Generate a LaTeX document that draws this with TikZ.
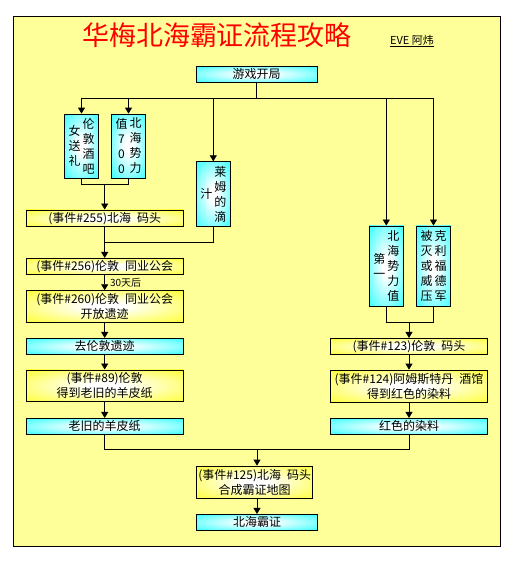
\documentclass[tikz,border=0pt]{standalone}
\usepackage{fontspec}
\setmainfont{Noto Sans CJK SC}
\usepackage{tikz}
\usetikzlibrary{arrows.meta,calc}

\definecolor{paper}{RGB}{255,255,153}
\pgfdeclareradialshading{aquaglow}{\pgfpointorigin}{rgb(0bp)=(1,1,1); rgb(6bp)=(1,1,1); rgb(44bp)=(0,1,1); rgb(50bp)=(0,1,1)}
\pgfdeclareradialshading{lemonglow}{\pgfpointorigin}{rgb(0bp)=(1,1,1); rgb(6bp)=(1,1,1); rgb(44bp)=(1,1,0); rgb(50bp)=(1,1,0)}
% one column of vertical text
\newcommand{\vcol}[1]{\parbox[c]{12pt}{\centering\baselineskip=15pt #1}}

\begin{document}
\begin{tikzpicture}[x=1pt,y=-1pt,
  aquabox/.style={draw, line width=0.8pt, shade, shading=aquaglow, inner sep=0pt, align=center, font=\fontsize{12}{15}\selectfont},
  lemonbox/.style={draw, line width=0.8pt, shade, shading=lemonglow, inner sep=0pt, align=center, font=\fontsize{12}{15}\selectfont},
  colbox/.style={aquabox, minimum width=34.4pt},
  wide/.style={minimum width=157pt},
  flow/.style={line width=0.8pt},
  arr/.style={flow, -{Triangle[width=7pt,length=6pt]}},
  note/.style={inner sep=0pt, font=\fontsize{10}{12}\selectfont}]
  \useasboundingbox (0,0) rectangle (514,563);
  \draw[line width=1pt, fill=paper] (13.3,16) rectangle (500.7,546);

  \node[text=red, font=\fontsize{27}{27}\selectfont] (title) at (217,35) {华梅北海霸证流程攻略};
  \node[font=\fontsize{11}{13}\selectfont] (author) at (412,41) {\underline{EVE 阿炜}};

  \node[aquabox, minimum width=121pt, minimum height=16pt] (start) at (256.5,74) {游戏开局};

  \node[colbox, minimum height=64pt] (bar) at (81.5,146) {\vcol{女\\送\\礼}\hspace{2pt}\vcol{伦\\敦\\酒\\吧}};
  \node[colbox, minimum height=64pt] (power) at (128.5,146) {\vcol{值\\7\\0\\0}\hspace{2pt}\vcol{北\\海\\势\\力}};
  \node[colbox, minimum height=65pt] (lime) at (213.3,194.2) {\vcol{汁}\hspace{2pt}\vcol{莱\\姆\\的\\滴}};
  \node[colbox, minimum height=80.7pt] (first) at (386.3,266.3) {\vcol{第\\一}\hspace{2pt}\vcol{北\\海\\势\\力\\值}};
  \node[colbox, minimum height=80.7pt] (fleet) at (433.5,266.3) {\vcol{被\\灭\\或\\威\\压}\hspace{2pt}\vcol{克\\利\\福\\德\\军}};

  \node[lemonbox, wide, minimum height=16.7pt] (e255) at (104.7,218.3) {(事件\#255)北海\enspace 码头};
  \node[lemonbox, wide, minimum height=15.7pt] (e256) at (104.7,266.2) {(事件\#256)伦敦\enspace 同业公会};
  \node[lemonbox, wide, minimum height=31.3pt] (e260) at (104.7,306.3) {(事件\#260)伦敦\enspace 同业公会\\开放遗迹};
  \node[aquabox, wide, minimum height=15.7pt] (ruins) at (104.7,346.2) {去伦敦遗迹};
  \node[lemonbox, wide, minimum height=31.7pt] (e89) at (104.7,385.8) {(事件\#89)伦敦\\得到老旧的羊皮纸};
  \node[aquabox, wide, minimum height=15.7pt] (parch) at (104.7,426.2) {老旧的羊皮纸};

  \node[lemonbox, wide, minimum height=15.7pt] (e123) at (409,346.2) {(事件\#123)伦敦\enspace 码头};
  \node[lemonbox, wide, minimum height=32.3pt] (e124) at (409,386.2) {(事件\#124)阿姆斯特丹\enspace 酒馆\\得到红色的染料};
  \node[aquabox, wide, minimum height=15.7pt] (dye) at (409,426.2) {红色的染料};

  \node[lemonbox, minimum width=116pt, minimum height=32.3pt] (e125) at (254.7,482.2) {(事件\#125)北海\enspace 码头\\合成霸证地图};
  \node[aquabox, minimum width=120.6pt, minimum height=15.7pt] (goal) at (257,522.2) {北海霸证};

  % fork under the start
  \coordinate (fork) at ([yshift=-16pt]start.south);
  \draw[flow] (start) -- (fork);
  \foreach \b in {bar,power,lime,first,fleet}
    \draw[arr] (fork) -| (\b);

  \coordinate (meet1) at ([yshift=25pt]e255.north);
  \draw[flow] (bar) |- (meet1) -| (power);
  \draw[arr] (meet1) -- (e255);

  \coordinate (meet2) at ([yshift=16pt]e256.north);
  \draw[flow] (e255) -- (meet2) -| (lime);
  \draw[arr] (meet2) -- (e256);
  \path[arr]
  (e256) edge node[note, right=5pt] {30天后} (e260)
  (e260) edge (ruins)
  (ruins) edge (e89)
  (e89) edge (parch);

  \coordinate (meet3) at ([yshift=16pt]e123.north);
  \draw[flow] (first) |- (meet3) -| (fleet);
  \draw[arr] (meet3) -- (e123);
  \path[arr]
  (e123) edge (e124)
  (e124) edge (dye);

  % both items meet at the map
  \coordinate (meet4) at ($(goal |- e125.north)+(0,-16)$);
  \draw[flow] (parch) |- (meet4) -| (dye);
  \draw[arr] (meet4) -- (meet4 |- e125.north);
  \draw[arr] (e125.south -| goal) -- (goal);
\end{tikzpicture}
\end{document}
